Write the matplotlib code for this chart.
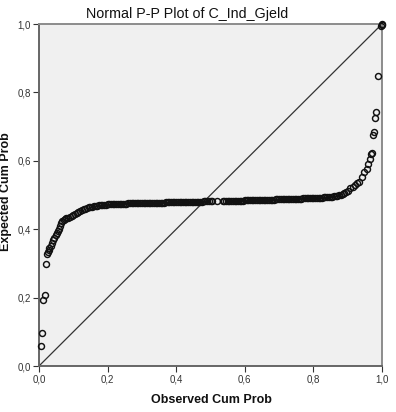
import matplotlib
matplotlib.use('Agg')
import matplotlib.pyplot as plt
from matplotlib.ticker import FuncFormatter

plt.rcParams['font.family'] = ['Liberation Sans', 'DejaVu Sans']

# observed vs expected cumulative probabilities
obs_prob = [
    0.006, 0.009, 0.0125, 0.0165, 0.020, 0.023, 0.025, 0.028, 0.030, 0.034,
    0.037, 0.041, 0.045, 0.049, 0.052, 0.055, 0.057, 0.060, 0.064, 0.068,
    0.072, 0.076, 0.080,
    0.085, 0.090, 0.095, 0.100, 0.105, 0.110, 0.115, 0.120, 0.125, 0.130,
    0.135, 0.140, 0.145, 0.150, 0.155, 0.160, 0.165, 0.170, 0.175, 0.180,
    0.185, 0.190, 0.195, 0.200, 0.205, 0.210, 0.215, 0.220, 0.225, 0.230,
    0.235, 0.240, 0.245, 0.250, 0.255, 0.260, 0.265, 0.270, 0.275, 0.280,
    0.285, 0.290, 0.295, 0.300, 0.305, 0.310, 0.315, 0.320, 0.325, 0.330,
    0.335, 0.340, 0.345, 0.350, 0.355, 0.360, 0.365, 0.370, 0.375, 0.380,
    0.385, 0.390, 0.395, 0.400, 0.405, 0.410, 0.415, 0.420, 0.425, 0.430,
    0.435, 0.440, 0.445, 0.450, 0.455, 0.460, 0.465, 0.470, 0.475, 0.480,
    0.485, 0.490, 0.495, 0.500, 0.503, 0.519, 0.535,
    0.540, 0.545, 0.550, 0.555, 0.560, 0.565, 0.570, 0.575, 0.580,
    0.585, 0.590, 0.595, 0.600, 0.605, 0.610, 0.615, 0.620, 0.625, 0.630,
    0.635, 0.640, 0.645, 0.650, 0.655, 0.660, 0.665, 0.670, 0.675, 0.680,
    0.685, 0.690, 0.695, 0.700, 0.705, 0.710, 0.715, 0.720, 0.725, 0.730,
    0.735, 0.740, 0.745, 0.750, 0.755, 0.760, 0.765, 0.770, 0.775, 0.780,
    0.785, 0.790, 0.795, 0.800, 0.805, 0.810, 0.815, 0.820, 0.825, 0.830,
    0.835, 0.840, 0.845, 0.850, 0.855, 0.860, 0.865, 0.870, 0.875, 0.880,
    0.885, 0.890, 0.895,
    0.901, 0.907, 0.914, 0.921, 0.928, 0.934, 0.941, 0.948, 0.955, 0.960,
    0.965, 0.968, 0.970, 0.973, 0.977, 0.980, 0.983, 0.989, 0.997, 0.999,
    1.000,
]
exp_prob = [
    0.058, 0.096, 0.193, 0.208, 0.298, 0.328, 0.333, 0.340, 0.345, 0.352,
    0.360, 0.367, 0.374, 0.382, 0.389, 0.395, 0.400, 0.410, 0.419, 0.424,
    0.427, 0.429, 0.432,
    0.434, 0.437, 0.440, 0.442, 0.445, 0.447, 0.450, 0.453, 0.456, 0.458,
    0.460, 0.462, 0.464, 0.465, 0.466, 0.467, 0.468, 0.469, 0.470, 0.471,
    0.471, 0.472, 0.472, 0.473, 0.473, 0.473, 0.474, 0.474, 0.474, 0.474,
    0.475, 0.475, 0.475, 0.475, 0.475, 0.476, 0.476, 0.476, 0.476, 0.476,
    0.476, 0.477, 0.477, 0.477, 0.477, 0.477, 0.477, 0.477, 0.478, 0.478,
    0.478, 0.478, 0.478, 0.478, 0.478, 0.478, 0.478, 0.479, 0.479, 0.479,
    0.479, 0.479, 0.479, 0.479, 0.479, 0.479, 0.479, 0.480, 0.480, 0.480,
    0.480, 0.480, 0.480, 0.480, 0.480, 0.480, 0.480, 0.480, 0.480, 0.481,
    0.481, 0.481, 0.481, 0.481, 0.481, 0.481, 0.482,
    0.482, 0.482, 0.482, 0.482, 0.482, 0.482, 0.483, 0.483, 0.483,
    0.483, 0.483, 0.483, 0.484, 0.484, 0.484, 0.484, 0.484, 0.484, 0.485,
    0.485, 0.485, 0.485, 0.485, 0.485, 0.486, 0.486, 0.486, 0.486, 0.486,
    0.486, 0.487, 0.487, 0.487, 0.487, 0.487, 0.488, 0.488, 0.488, 0.488,
    0.488, 0.488, 0.489, 0.489, 0.489, 0.489, 0.489, 0.490, 0.490, 0.490,
    0.490, 0.490, 0.491, 0.491, 0.491, 0.491, 0.492, 0.492, 0.492, 0.493,
    0.493, 0.494, 0.494, 0.495, 0.495, 0.496, 0.497, 0.498, 0.499, 0.500,
    0.502, 0.505, 0.508,
    0.512, 0.520, 0.524, 0.529, 0.534, 0.539, 0.553, 0.568, 0.575, 0.590,
    0.604, 0.620, 0.622, 0.675, 0.685, 0.724, 0.742, 0.848, 0.995, 0.998,
    1.000,
]

tick_vals = [0.0, 0.2, 0.4, 0.6, 0.8, 1.0]

fig = plt.figure(figsize=(3.96, 4.12), dpi=100)
ax = fig.add_axes([39 / 396, 46 / 412, 343 / 396, 342 / 412])
ax.set_facecolor('#f0f0f0')

# reference line for a perfect normal fit
ax.plot([0, 1], [0, 1], color='#333333', lw=0.9, zorder=2)
ax.plot(obs_prob, exp_prob, linestyle='none', marker='o', markersize=4.3,
        markerfacecolor='none', markeredgecolor='#111111',
        markeredgewidth=1.05, zorder=3, clip_on=False)

ax.set_xlim(0, 1)
ax.set_ylim(0, 1)
ax.set_xticks(tick_vals)
ax.set_yticks(tick_vals)
fmt = FuncFormatter(lambda v, pos: ('%.1f' % v).replace('.', ','))
ax.xaxis.set_major_formatter(fmt)
ax.yaxis.set_major_formatter(fmt)
ax.tick_params(direction='out', length=4, width=0.8, colors='#333333',
               labelsize=7, pad=2)

for side in ['top', 'right']:
    ax.spines[side].set_color('#8c8c8c')
    ax.spines[side].set_linewidth(1.4)
for side in ['left', 'bottom']:
    ax.spines[side].set_color('#666666')
    ax.spines[side].set_linewidth(1.4)

fig.text(187.5 / 396, (412 - 18) / 412, 'Normal P-P Plot of C_Ind_Gjeld',
         ha='center', va='baseline', fontsize=10.3, color='#111111')
fig.text(211 / 396, (412 - 403) / 412, 'Observed Cum Prob',
         ha='center', va='baseline', fontsize=9, fontweight='bold',
         color='#111111')
fig.text(6.5 / 396, (412 - 192) / 412, 'Expected Cum Prob',
         ha='center', va='center', rotation=90, fontsize=9,
         fontweight='bold', color='#111111')

fig.savefig('out.png', dpi=100)
